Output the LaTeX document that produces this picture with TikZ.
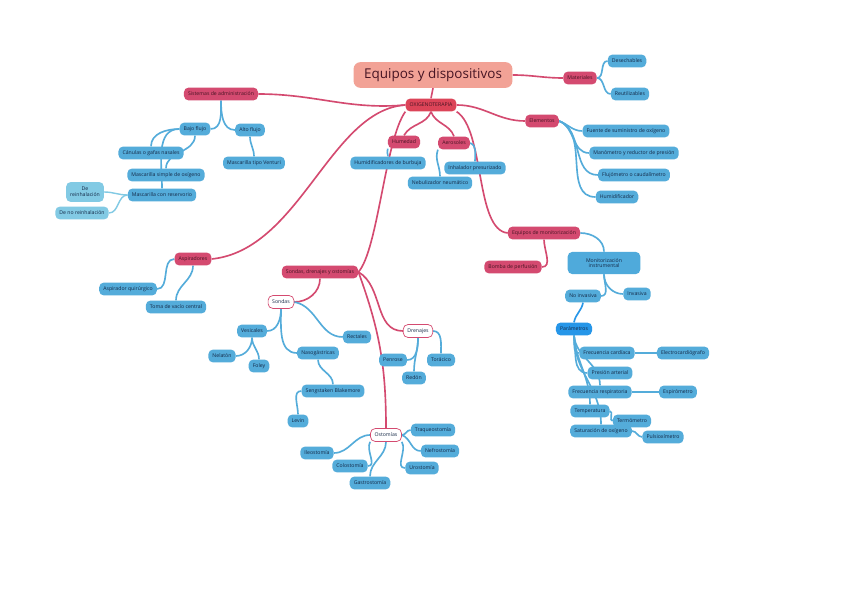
\documentclass[tikz,border=0pt]{standalone}
\usepackage{fontspec}
\setmainfont{Open Sans}
\usetikzlibrary{positioning, backgrounds}
\definecolor{mapred}{RGB}{212,74,112}
\definecolor{mapcore}{RGB}{220,68,88}
\definecolor{mapsalmon}{RGB}{242,162,150}
\definecolor{mapblue}{RGB}{84,172,218}
\definecolor{mapbright}{RGB}{38,150,232}
\definecolor{maplight}{RGB}{130,202,228}
\definecolor{redtext}{RGB}{70,20,35}
\definecolor{bluetext}{RGB}{20,40,70}

\begin{document}
\begin{tikzpicture}[x=0.03cm, y=-0.03cm,
  every node/.style={font=\fontsize{4.4}{5}\selectfont, inner xsep=3.5pt, inner ysep=0pt, minimum height=11pt, rounded corners=4pt, align=center},
  tbox/.style={fill=mapsalmon, text=redtext, font=\fontsize{11.5}{13}\selectfont, minimum height=22pt, inner xsep=9pt, rounded corners=6pt},
  rbox/.style={fill=mapred, text=redtext},
  cbox/.style={fill=mapcore, text=redtext},
  bbox/.style={fill=mapblue, text=bluetext},
  pbox/.style={fill=mapbright, text=bluetext},
  lbox/.style={fill=maplight, text=bluetext},
  wbox/.style={fill=white, draw=mapred, line width=0.6pt, text=bluetext},
  rlink/.style={draw=mapred, line width=1.4pt},
  blink/.style={draw=mapblue, line width=1.4pt},
  plink/.style={draw=mapbright, line width=1.4pt},
  llink/.style={draw=maplight, line width=1.2pt}
]
  \useasboundingbox (0,0) rectangle (848,599);

  % centre
  \node[tbox] (title) at (433,75) {Equipos y dispositivos};
  \node[cbox] (central) at (431,105) {OXIGENOTERAPIA};

  % materiales
  \node[rbox] (materiales) at (580,78) {Materiales};
  \node[bbox] (desechables) at (627,61) {Desechables};
  \node[bbox] (reutilizables) at (630,94) {Reutilizables};

  % sistemas de administracion
  \node[rbox] (sistemas) at (221,94) {Sistemas de administración};
  \node[bbox] (bajoflujo) at (195,129) {Bajo flujo};
  \node[bbox] (altoflujo) at (250,130) {Alto flujo};
  \node[bbox] (venturi) at (254,163) {Mascarilla tipo Venturi};
  \node[bbox] (canulas) at (151,153) {Cánulas o gafas nasales};
  \node[bbox] (simple) at (166,175) {Mascarilla simple de oxígeno};
  \node[bbox] (reservorio) at (162,195) {Mascarilla con reservorio};
  \node[lbox, minimum height=17pt] (reinhal) at (85,192) {De\\reinhalación};
  \node[lbox] (noreinhal) at (82,213) {De no reinhalación};

  % aspiradores
  \node[rbox] (aspiradores) at (193,259) {Aspiradores};
  \node[bbox] (aspquir) at (128,289) {Aspirador quirúrgico};
  \node[bbox] (tomavacio) at (176,307) {Toma de vacío central};

  % humedad y aerosoles
  \node[rbox] (humedad) at (404,142) {Humedad};
  \node[rbox] (aerosoles) at (454,143) {Aerosoles};
  \node[bbox] (humidif) at (388,163) {Humidificadores de burbuja};
  \node[bbox] (nebul) at (440,183) {Nebulizador neumático};
  \node[bbox] (inhal) at (475,168) {Inhalador presurizado};

  % elementos
  \node[rbox] (elementos) at (542,121) {Elementos};
  \node[bbox] (fuente) at (626,131) {Fuente de suministro de oxígeno};
  \node[bbox] (manom) at (634,153) {Manómetro y reductor de presión};
  \node[bbox] (flujo) at (634,175) {Flujómetro o caudalímetro};
  \node[bbox] (humidificador) at (617,197) {Humidificador};

  % monitorizacion
  \node[rbox] (equiposmon) at (544,233) {Equipos de monitorización};
  \node[rbox] (bomba) at (513,267) {Bomba de perfusión};
  \node[bbox, fill=mapblue!90!mapbright, minimum height=19pt, minimum width=62pt] (moninst) at (604,263) {Monitorización\\instrumental};
  \node[bbox] (noinvasiva) at (583,296) {No invasiva};
  \node[bbox] (invasiva) at (637,294) {Invasiva};
  \node[pbox] (parametros) at (574,329) {Parámetros};
  \node[bbox] (fc) at (607,353) {Frecuencia cardíaca};
  \node[bbox] (ecg) at (683,353) {Electrocardiógrafo};
  \node[bbox] (pa) at (610,373) {Presión arterial};
  \node[bbox] (fr) at (600,392) {Frecuencia respiratoria};
  \node[bbox] (espiro) at (678,392) {Espirómetro};
  \node[bbox] (temp) at (590,411) {Temperatura};
  \node[bbox] (termo) at (632,421) {Termómetro};
  \node[bbox] (sat) at (601,431) {Saturación de oxígeno};
  \node[bbox] (pulsi) at (663,437) {Pulsioxímetro};

  % sondas, drenajes y ostomias
  \node[rbox] (sondasdren) at (320,272) {Sondas, drenajes y ostomías};
  \node[wbox] (sondas) at (281,302) {Sondas};
  \node[bbox] (vesicales) at (252,331) {Vesicales};
  \node[bbox] (nelaton) at (222,356) {Nelatón};
  \node[bbox] (foley) at (259,366) {Foley};
  \node[bbox] (nasog) at (318,353) {Nasogástricas};
  \node[bbox] (sengstaken) at (333,391) {Sengstaken Blakemore};
  \node[bbox] (levin) at (298,421) {Levin};
  \node[bbox] (rectales) at (357,337) {Rectales};
  \node[wbox] (drenajes) at (418,331) {Drenajes};
  \node[bbox] (penrose) at (393,360) {Penrose};
  \node[bbox] (redon) at (414,378) {Redón};
  \node[bbox] (toracico) at (441,360) {Torácico};
  \node[wbox] (ostomias) at (386,435) {Ostomías};
  \node[bbox] (ileo) at (317,453) {Ileostomía};
  \node[bbox] (colo) at (350,466) {Colostomía};
  \node[bbox] (gastro) at (370,483) {Gastrostomía};
  \node[bbox] (traqueo) at (433,430) {Traqueostomía};
  \node[bbox] (nefro) at (440,451) {Nefrostomía};
  \node[bbox] (uro) at (422,468) {Urostomía};

  \begin{pgfonlayer}{background}
    \fill[white] (0,0) rectangle (848,599);
    % main branches
    \draw[rlink] (title.south) to[out=-100,in=80] (central.north);
    \draw[rlink] (title.east) to[out=0,in=180] (materiales.west);
    \draw[rlink] (central.west) to[out=185,in=0] (sistemas.east);
    \draw[rlink] (central.west) .. controls (330,110) and (300,250) .. (aspiradores.east);
    \draw[rlink] (central.south) to[out=-110,in=60] (humedad.north);
    \draw[rlink] (central.south) to[out=-70,in=110] (aerosoles.north);
    \draw[rlink] (central.east) to[out=0,in=180] (elementos.west);
    \draw[rlink] (central.south east) .. controls (485,130) and (475,230) .. (equiposmon.west);
    \draw[rlink] (central.south west) .. controls (385,140) and (378,250) .. (sondasdren.east);

    % materiales
    \draw[blink] (materiales.east) to[out=0,in=180] (desechables.west);
    \draw[blink] (materiales.east) to[out=0,in=180] (reutilizables.west);

    % sistemas
    \draw[blink] (sistemas.south) to[out=-90,in=0] (bajoflujo.east);
    \draw[blink] (sistemas.south) to[out=-90,in=180] (altoflujo.west);
    \draw[blink] (altoflujo.south) to[out=-90,in=90] (venturi.north);
    \draw[blink] (bajoflujo.west) to[out=180,in=90] (canulas.north);
    \draw[blink] (bajoflujo.south) to[out=-90,in=90] (simple.north);
    \draw[blink] (bajoflujo.west) to[out=180,in=90] (reservorio.north);
    \draw[llink] (reservorio.west) to[out=180,in=0] (reinhal.east);
    \draw[llink] (reservorio.west) to[out=180,in=0] (noreinhal.east);

    % aspiradores
    \draw[blink] (aspiradores.west) to[out=180,in=0] (aspquir.east);
    \draw[blink] (aspiradores.south) to[out=-90,in=90] (tomavacio.north);

    % humedad y aerosoles
    \draw[blink] (humedad.south west) to[out=-120,in=90] (humidif.north);
    \draw[blink] (aerosoles.south west) to[out=-110,in=90] (nebul.north);
    \draw[blink] (aerosoles.east) to[out=-20,in=90] (inhal.north);

    % elementos
    \foreach \e in {fuente, manom, flujo, humidificador}
      \draw[blink] (elementos.east) to[out=-20,in=180] (\e.west);

    % monitorizacion
    \draw[rlink] (equiposmon.south) to[out=-90,in=0] (bomba.east);
    \draw[blink] (equiposmon.east) to[out=0,in=90] (moninst.north);
    \draw[blink] (moninst.south) to[out=-90,in=0] (noinvasiva.east);
    \draw[blink] (moninst.south) to[out=-90,in=180] (invasiva.west);
    \draw[plink] (noinvasiva.south) to[out=-100,in=80] (parametros.north);
    \draw[blink] (parametros.south) to[out=-80,in=180] (fc.west);
    \draw[blink] (parametros.south) to[out=-80,in=180] (pa.west);
    \draw[blink] (parametros.south) to[out=-85,in=90] (fr.north);
    \draw[blink] (parametros.south) to[out=-85,in=90] (temp.north);
    \draw[blink] (parametros.south) to[out=-90,in=90] (sat.north);
    \draw[blink] (fc.east) to[out=0,in=180] (ecg.west);
    \draw[blink] (fr.east) to[out=0,in=180] (espiro.west);
    \draw[blink] (temp.east) to[out=0,in=180] (termo.west);
    \draw[blink] (sat.east) to[out=0,in=180] (pulsi.west);

    % sondas, drenajes y ostomias
    \draw[rlink] (sondasdren.south) to[out=-90,in=0] (sondas.east);
    \draw[rlink] (sondasdren.east) to[out=-30,in=180] (drenajes.west);
    \draw[rlink] (sondasdren.east) to[out=-70,in=90] (ostomias.north);
    \draw[blink] (sondas.south) to[out=-90,in=0] (vesicales.east);
    \draw[blink] (sondas.south) to[out=-90,in=180] (nasog.west);
    \draw[blink] (sondas.east) to[out=-10,in=180] (rectales.west);
    \draw[blink] (vesicales.south) to[out=-90,in=0] (nelaton.east);
    \draw[blink] (vesicales.south) to[out=-90,in=90] (foley.north);
    \draw[blink] (nasog.south) to[out=-90,in=90] (sengstaken.north);
    \draw[blink] (sengstaken.west) to[out=180,in=90] (levin.north);
    \draw[blink] (drenajes.south) to[out=-90,in=0] (penrose.east);
    \draw[blink] (drenajes.south) to[out=-90,in=90] (redon.north);
    \draw[blink] (drenajes.east) to[out=0,in=90] (toracico.north);
    \draw[blink] (ostomias.west) to[out=180,in=0] (ileo.east);
    \draw[blink] (ostomias.south west) to[out=-120,in=0] (colo.east);
    \draw[blink] (ostomias.south) to[out=-90,in=90] (gastro.north);
    \draw[blink] (ostomias.east) to[out=0,in=180] (traqueo.west);
    \draw[blink] (ostomias.east) to[out=-20,in=180] (nefro.west);
    \draw[blink] (ostomias.south east) to[out=-60,in=180] (uro.west);
  \end{pgfonlayer}
\end{tikzpicture}
\end{document}
